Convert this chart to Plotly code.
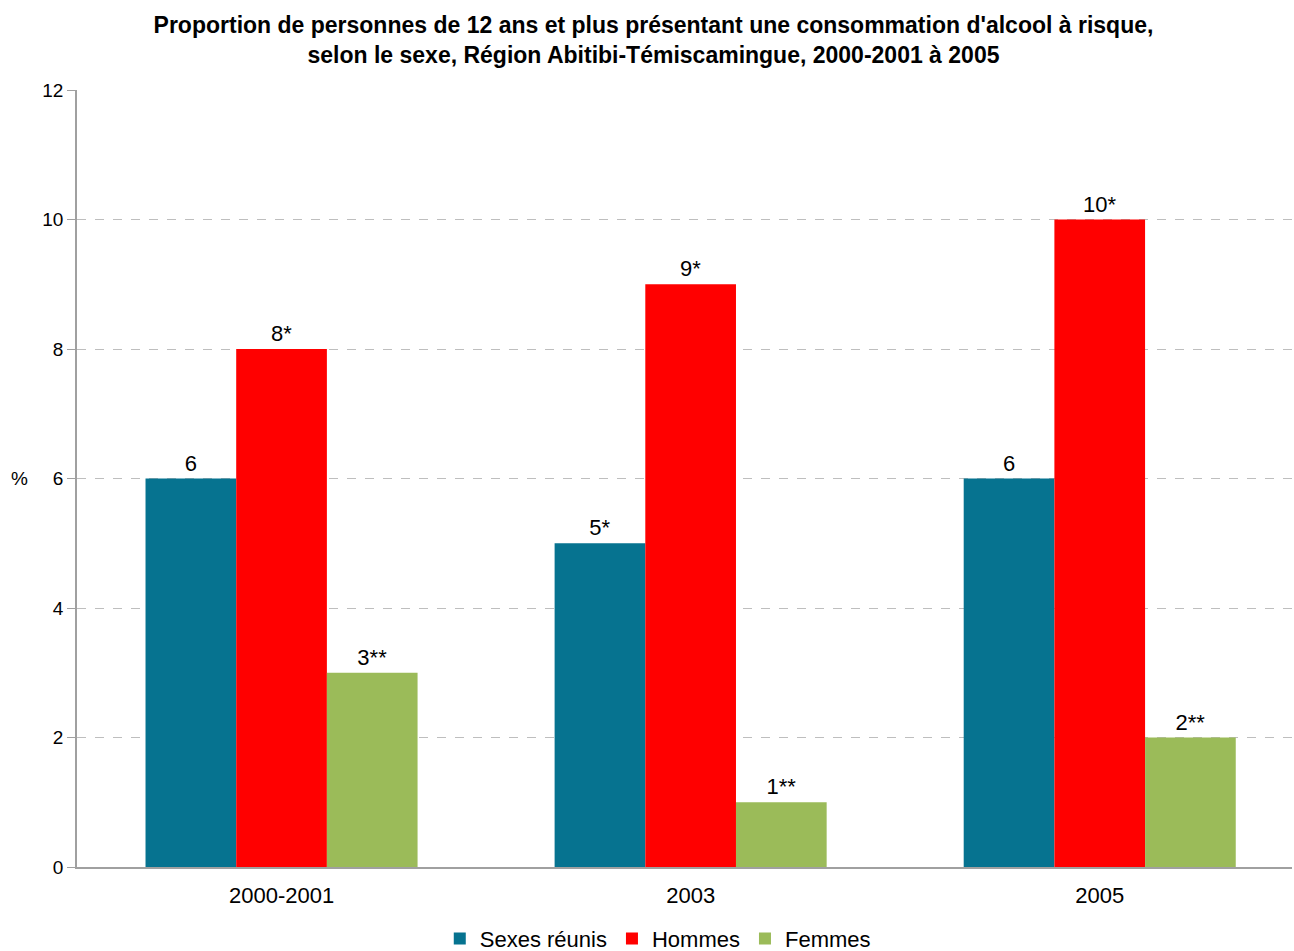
import plotly.graph_objects as go

categories = ["2000-2001", "2003", "2005"]
series_names = ["Sexes réunis", "Hommes", "Femmes"]
sexes_reunis = [6, 5, 6]
hommes = [8, 9, 10]
femmes = [3, 1, 2]
labels_sexes = ["6", "5*", "6"]
labels_hommes = ["8*", "9*", "10*"]
labels_femmes = ["3**", "1**", "2**"]
colors = ["#067390", "#FF0000", "#9BBB59"]
y_ticks = [0, 2, 4, 6, 8, 10, 12]

FONT = "Liberation Sans, Arial, sans-serif"

fig = go.Figure()
for name, vals, labs, col in zip(series_names, [sexes_reunis, hommes, femmes],
                                 [labels_sexes, labels_hommes, labels_femmes], colors):
    fig.add_trace(go.Bar(
        x=categories, y=vals, name=name, text=labs,
        textposition="outside", cliponaxis=False,
        textfont=dict(size=22, color="black", family=FONT),
        marker=dict(color=col, line=dict(width=0)),
    ))

fig.update_layout(
    width=1294, height=951,
    paper_bgcolor="white", plot_bgcolor="white",
    margin=dict(l=77, r=2, t=90, b=84, autoexpand=False),
    barmode="group", bargap=0.335, bargroupgap=0,
    font=dict(family=FONT, color="black"),
    title=dict(
        text="Proportion de personnes de 12 ans et plus présentant une consommation d'alcool à risque,<br>selon le sexe, Région Abitibi-Témiscamingue, 2000-2001 à 2005",
        x=0.505, xanchor="center", y=0.965, yanchor="top",
        font=dict(size=23, family=FONT, color="black", weight="bold"),
    ),
    legend=dict(orientation="h", x=0.478, xanchor="center",
                yref="container", y=0.013, yanchor="middle",
                font=dict(size=22, family=FONT, color="black"),
                itemwidth=30, tracegroupgap=0),
    showlegend=True,
)
fig.update_xaxes(
    range=[-0.5, 2.47], showline=True, linecolor="#A0A0A0", linewidth=1.5,
    ticks="", tickfont=dict(size=22, family=FONT, color="black"),
    ticklabelstandoff=8,
    showgrid=False, automargin=False,
)
fig.update_yaxes(
    range=[0, 12], tickvals=y_ticks, showline=True, linecolor="#A0A0A0", linewidth=1.5,
    ticks="outside", ticklen=8, tickcolor="#A0A0A0",
    tickfont=dict(size=19, family=FONT, color="black"),
    showgrid=True, gridcolor="#BEBEBE", griddash="dash", gridwidth=1,
    zeroline=False, automargin=False,
)
fig.add_annotation(text="%", xref="paper", yref="paper", x=-0.047, y=0.5,
                   xanchor="center", yanchor="middle", showarrow=False,
                   font=dict(size=19, family=FONT, color="black"))

fig.write_html("out.html", config={"displayModeBar": False},
               post_script="document.body.style.margin='0';document.body.style.overflow='hidden';")
